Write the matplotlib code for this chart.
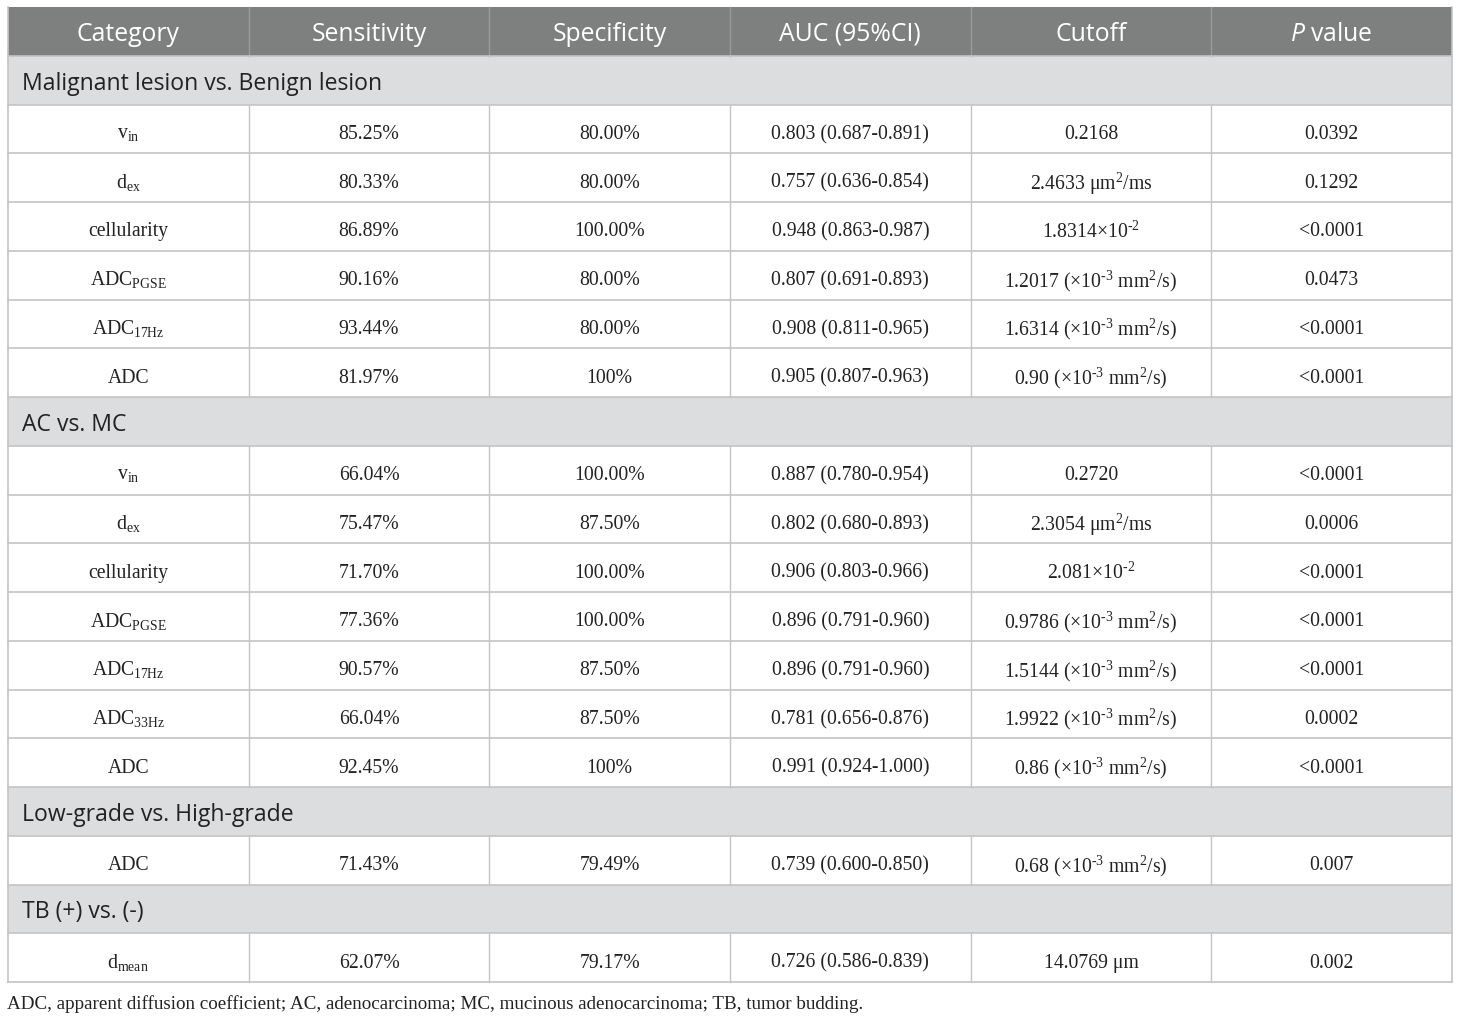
import matplotlib
matplotlib.use("Agg")
import matplotlib.pyplot as plt
from matplotlib.patches import Rectangle

plt.rcParams['mathtext.fontset'] = 'custom'
plt.rcParams['mathtext.rm'] = 'Liberation Serif'
plt.rcParams['mathtext.it'] = 'Open Sans:italic'
plt.rcParams['mathtext.bf'] = 'Liberation Serif:bold'

# ---------------- data ----------------
headers = ["Category", "Sensitivity", "Specificity", "AUC (95%CI)", "Cutoff", r"$\mathit{P}$ value"]
groups = ["Malignant lesion vs. Benign lesion", "AC vs. MC", "Low-grade vs. High-grade", "TB (+) vs. (-)"]
row_group = [0, 0, 0, 0, 0, 0, 1, 1, 1, 1, 1, 1, 1, 2, 3]
params = [r"v$_{\mathrm{in}}$", r"d$_{\mathrm{ex}}$", "cellularity", r"ADC$_{\mathrm{PGSE}}$",
          r"ADC$_{\mathrm{17Hz}}$", "ADC",
          r"v$_{\mathrm{in}}$", r"d$_{\mathrm{ex}}$", "cellularity", r"ADC$_{\mathrm{PGSE}}$",
          r"ADC$_{\mathrm{17Hz}}$", r"ADC$_{\mathrm{33Hz}}$", "ADC",
          "ADC",
          r"d$_{\mathrm{mean}}$"]
sensitivity = ["85.25%", "80.33%", "86.89%", "90.16%", "93.44%", "81.97%",
               "66.04%", "75.47%", "71.70%", "77.36%", "90.57%", "66.04%", "92.45%",
               "71.43%", "62.07%"]
specificity = ["80.00%", "80.00%", "100.00%", "80.00%", "80.00%", "100%",
               "100.00%", "87.50%", "100.00%", "100.00%", "87.50%", "87.50%", "100%",
               "79.49%", "79.17%"]
auc = ["0.803 (0.687-0.891)", "0.757 (0.636-0.854)", "0.948 (0.863-0.987)", "0.807 (0.691-0.893)",
       "0.908 (0.811-0.965)", "0.905 (0.807-0.963)",
       "0.887 (0.780-0.954)", "0.802 (0.680-0.893)", "0.906 (0.803-0.966)", "0.896 (0.791-0.960)",
       "0.896 (0.791-0.960)", "0.781 (0.656-0.876)", "0.991 (0.924-1.000)",
       "0.739 (0.600-0.850)", "0.726 (0.586-0.839)"]
unit = r" ($\times$10$^{\text{-3}}$ mm$^{2}$/s)"
cutoff = ["0.2168", r"2.4633 μm$^{2}$/ms", r"1.8314$\times$10$^{\text{-2}}$", "1.2017" + unit,
          "1.6314" + unit, "0.90" + unit,
          "0.2720", r"2.3054 μm$^{2}$/ms", r"2.081$\times$10$^{\text{-2}}$", "0.9786" + unit,
          "1.5144" + unit, "1.9922" + unit, "0.86" + unit,
          "0.68" + unit, "14.0769 μm"]
pvalue = ["0.0392", "0.1292", "<0.0001", "0.0473", "<0.0001", "<0.0001",
          "<0.0001", "0.0006", "<0.0001", "<0.0001", "<0.0001", "0.0002", "<0.0001",
          "0.007", "0.002"]
footnote = "ADC, apparent diffusion coefficient; AC, adenocarcinoma; MC, mucinous adenocarcinoma; TB, tumor budding."

# ---------------- layout ----------------
W, H = 1460, 1020
fig = plt.figure(figsize=(W / 100, H / 100), dpi=100)
ax = fig.add_axes([0, 0, 1, 1])
ax.set_xlim(0, W)
ax.set_ylim(H, 0)
ax.axis('off')

left, right, top = 8, 1452, 8
ncol = len(headers)
colw = (right - left) / ncol
rowh = 48.75

header_bg = "#7e807f"
group_bg = "#dcdddf"
line_c = "#c4c4c4"
text_c = "#222222"
sans = "Open Sans"
serif = "Liberation Serif"
dy = 4

# build row sequence
rows = []
last = None
for i, g in enumerate(row_group):
    if g != last:
        rows.append(("group", g))
        last = g
    rows.append(("data", i))

# header
ax.add_patch(Rectangle((left, top), right - left, rowh, facecolor=header_bg, edgecolor='none'))
for c, h in enumerate(headers):
    ax.text(left + colw * (c + 0.5), top + rowh / 2 + dy - 2, h, ha='center', va='center',
            color='white', fontsize=17.8, family=sans)
    if c > 0:
        ax.plot([left + colw * c] * 2, [top, top + rowh], color="#9a9c9b", lw=1)

y = top + rowh
for kind, idx in rows:
    if kind == "group":
        ax.add_patch(Rectangle((left, y), right - left, rowh, facecolor=group_bg,
                               edgecolor='none'))
        ax.text(left + 14, y + rowh / 2 + dy - 1.5, groups[idx], ha='left', va='center',
                color=text_c, fontsize=16.6, family=sans)
    else:
        vals = [params[idx], sensitivity[idx], specificity[idx], auc[idx], cutoff[idx], pvalue[idx]]
        for c, v in enumerate(vals):
            ax.text(left + colw * (c + 0.5), y + rowh / 2 + dy + 0.5, v, ha='center', va='center',
                    color=text_c, fontsize=14.2, family=serif)
        for c in range(1, ncol):
            ax.plot([left + colw * c] * 2, [y, y + rowh], color=line_c, lw=1)
    ax.plot([left, right], [y, y], color=line_c, lw=1.2)
    y += rowh
ax.plot([left, right], [y, y], color=line_c, lw=1.2)
ax.plot([left, left], [top, y], color=line_c, lw=1.2)
ax.plot([right, right], [top, y], color=line_c, lw=1.2)

ax.text(left - 1, y + 21, footnote, ha='left', va='center', color=text_c,
        fontsize=13.7, family=serif)

fig.savefig("out.png", dpi=100, facecolor='white')
